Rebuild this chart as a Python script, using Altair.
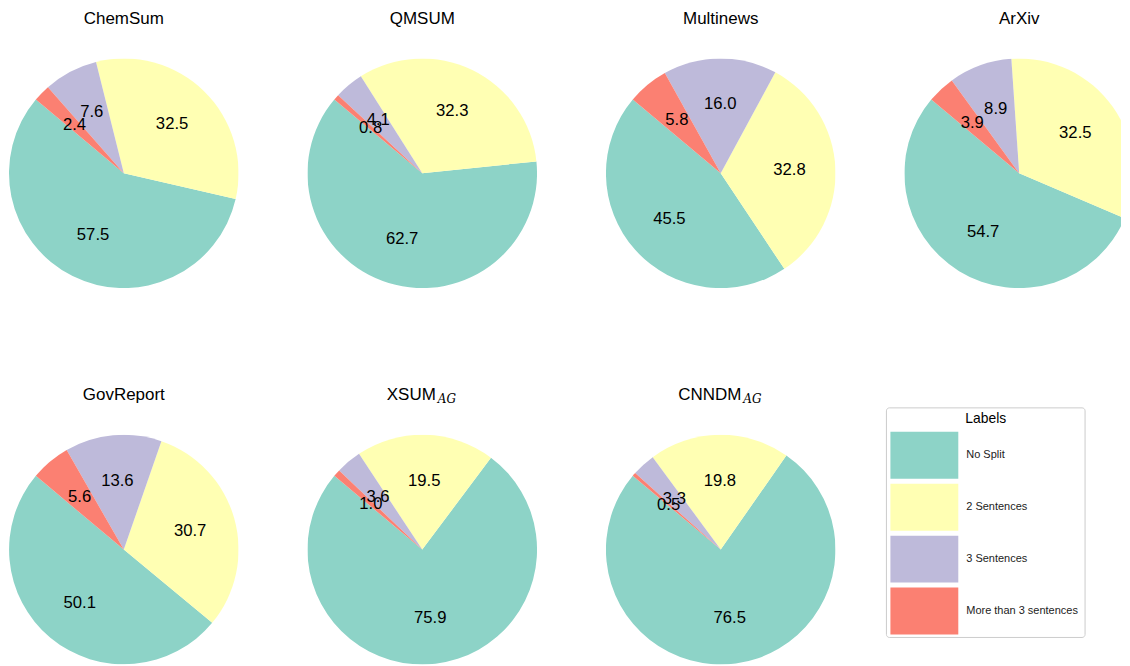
import math
import altair as alt
import pandas as pd

# ---------------- data ----------------
datasets = ["ChemSum", "QMSUM", "Multinews", "ArXiv", "GovReport", "XSUM", "CNNDM"]
subscripts = ["", "", "", "", "", "AG", "AG"]
labels = ["No Split", "2 Sentences", "3 Sentences", "More than 3 sentences"]
colors = ["#8dd3c7", "#ffffb3", "#bebada", "#fb8072"]
legend_title = "Labels"

no_split = [57.5, 62.7, 45.5, 54.7, 50.1, 75.9, 76.5]
two_sent = [32.5, 32.3, 32.8, 32.5, 30.7, 19.5, 19.8]
three_sent = [7.6, 4.1, 16.0, 8.9, 13.6, 3.6, 3.3]
more_sent = [2.4, 0.8, 5.8, 3.9, 5.6, 1.0, 0.5]

series = [no_split, two_sent, three_sent, more_sent]

rows = []
for i, name in enumerate(datasets):
    for j, lab in enumerate(labels):
        v = series[j][i]
        rows.append({"dataset": name, "label": lab, "idx": j, "value": v, "text": f"{v:.1f}"})
df = pd.DataFrame(rows)

# ---------------- style ----------------
FONT = "Liberation Sans"
R = 115
CELL = 2 * R
LAST_W = 217          # last column is cut off by the window edge, as in the reference
start = -50 * math.pi / 180  # matplotlib startangle=140, counter-clockwise
theta_scale = alt.Scale(range=[start, start + 2 * math.pi])
color_scale = alt.Scale(domain=labels, range=colors)

# approximate glyph widths (em) for centring title + subscript
char_w = {"X": .667, "S": .667, "U": .722, "M": .833, "C": .722, "N": .722, "D": .722}
TITLE_SIZE = 17
SUB_W = 22
TITLE_Y = -35


def pie(i, width):
    name = datasets[i]
    base = alt.Chart(df).transform_filter(alt.datum.dataset == name).encode(
        theta=alt.Theta("value:Q", stack=True, scale=theta_scale),
        order=alt.Order("idx:Q", sort="descending"),
        x=alt.value(R),
        y=alt.value(R),
    )
    arcs = base.mark_arc(outerRadius=R, clip=True).encode(
        color=alt.Color("label:N", scale=color_scale, legend=None)
    )
    txt = base.mark_text(radius=0.6 * R, font=FONT, fontSize=16.7, color="black").encode(
        text="text:N"
    )
    layers = [arcs, txt]
    sub = subscripts[i]
    if sub:
        main_w = sum(char_w.get(c, 0.6) for c in name) * TITLE_SIZE
        total = main_w + SUB_W
        split = R + total / 2 - SUB_W
        t1 = alt.Chart(pd.DataFrame({"t": [name]})).mark_text(
            font=FONT, fontSize=TITLE_SIZE, align="right", baseline="alphabetic", color="black"
        ).encode(text="t:N", x=alt.value(split), y=alt.value(TITLE_Y))
        t2 = alt.Chart(pd.DataFrame({"t": [sub]})).mark_text(
            font="DejaVu Serif", fontStyle="italic", fontSize=12, align="left",
            baseline="alphabetic", color="black", dx=1
        ).encode(text="t:N", x=alt.value(split + 1), y=alt.value(TITLE_Y + 3))
        layers += [t1, t2]
    else:
        t1 = alt.Chart(pd.DataFrame({"t": [name]})).mark_text(
            font=FONT, fontSize=TITLE_SIZE, align="center", baseline="alphabetic", color="black"
        ).encode(text="t:N", x=alt.value(R), y=alt.value(TITLE_Y))
        layers.append(t1)
    return alt.layer(*layers).properties(width=width, height=CELL)


def legend_panel(width):
    box = alt.Chart(pd.DataFrame({"a": [0]})).mark_rect(
        fill="white", stroke="#cccccc", strokeWidth=1, cornerRadius=3
    ).encode(x=alt.value(-18), x2=alt.value(181), y=alt.value(-27), y2=alt.value(203))
    title = alt.Chart(pd.DataFrame({"t": [legend_title]})).mark_text(
        font=FONT, fontSize=13.9, align="center", baseline="middle", color="black"
    ).encode(text="t:N", x=alt.value(81.5), y=alt.value(-16))
    yenc = alt.Y("label:N", sort=labels, axis=None,
                 scale=alt.Scale(range=[-3, 200], paddingInner=0.096, paddingOuter=0))
    sw = alt.Chart(pd.DataFrame({"label": labels})).mark_rect().encode(
        y=yenc, x=alt.value(-14), x2=alt.value(54),
        color=alt.Color("label:N", scale=color_scale, legend=None),
    )
    lt = alt.Chart(pd.DataFrame({"label": labels})).mark_text(
        font=FONT, fontSize=11, align="left", baseline="middle", color="#222222"
    ).encode(y=yenc, x=alt.value(62), text="label:N")
    return alt.layer(box, title, sw, lt).properties(width=width, height=CELL)


panels = []
for i in range(len(datasets)):
    panels.append(pie(i, LAST_W if i % 4 == 3 else CELL))
panels.append(legend_panel(LAST_W))

chart = alt.concat(
    *panels, columns=4, spacing={"row": 147, "column": 69}, bounds="flush", align="none"
).resolve_scale(theta="independent").configure_view(stroke="transparent").properties(padding=0)

chart.save("out.html", embed_options={"renderer": "svg", "actions": False})
